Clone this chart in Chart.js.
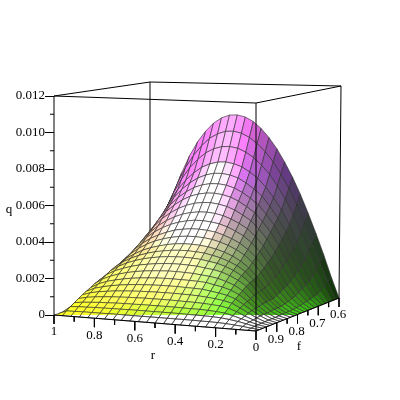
<!DOCTYPE html>
<html>
<head>
<meta charset="utf-8">
<script src="https://cdn.jsdelivr.net/npm/chart.js@4/dist/chart.umd.min.js"></script>
<style>
html, body { margin: 0; padding: 0; background: #fff; }
canvas { display: block; }
</style>
</head>
<body>
<canvas id="surfaceChart" width="400" height="400"></canvas>
<script>
// Grid of the surface
const rValues = [1, 0.958, 0.917, 0.875, 0.833, 0.792, 0.75, 0.708, 0.667, 0.625, 0.583, 0.542, 0.5, 0.458, 0.417, 0.375, 0.333, 0.292, 0.25, 0.208, 0.167, 0.125, 0.083, 0.042, 0];
const fValues = [1, 0.983, 0.967, 0.95, 0.933, 0.917, 0.9, 0.883, 0.867, 0.85, 0.833, 0.817, 0.8, 0.783, 0.767, 0.75, 0.733, 0.717, 0.7, 0.683, 0.667, 0.65, 0.633, 0.617, 0.6];

// q, in units of 1e-5, one row per f value
const qRows = [
  [0,0,0,0,0,0,0,0,0,0,0,0,0,0,0,0,0,0,0,0,0,0,0,0,0],
  [0,19,20,21,21,21,22,22,22,22,22,22,22,22,22,22,22,21,21,20,18,14,10,4,0],
  [0,36,39,40,42,42,43,43,44,44,44,44,44,44,44,43,43,42,41,38,33,26,17,7,0],
  [0,51,57,60,63,64,66,67,67,68,68,68,68,68,67,66,66,64,61,56,46,33,20,8,0],
  [0,67,77,83,87,90,92,94,95,96,96,96,96,95,94,93,91,88,84,75,60,40,23,9,0],
  [0,81,96,105,111,116,119,122,124,125,126,126,126,125,124,122,118,113,106,95,73,49,27,10,0],
  [0,94,114,126,135,142,147,151,153,155,156,156,156,154,153,151,144,137,127,111,84,55,30,11,0],
  [0,107,132,149,160,169,176,181,184,187,188,188,187,186,184,181,171,162,148,127,94,59,31,11,0],
  [0,121,152,172,187,198,207,213,217,220,222,222,220,218,213,208,200,186,169,142,102,62,31,11,0],
  [0,132,170,195,212,226,237,244,250,254,256,256,254,251,244,238,228,211,189,159,113,68,33,12,0],
  [0,141,185,214,236,252,265,274,281,286,288,288,286,282,274,266,252,233,207,171,121,72,36,13,0],
  [0,148,197,231,256,275,290,301,309,315,318,318,315,311,301,290,273,253,223,181,127,75,37,14,0],
  [0,151,207,246,275,298,315,328,338,345,348,348,345,339,329,315,296,271,237,191,132,77,38,14,0],
  [0,158,221,265,299,325,346,361,372,380,384,384,381,374,362,346,325,298,259,209,146,86,44,16,0],
  [0,163,234,284,322,352,375,393,407,415,420,420,416,409,395,377,355,323,281,227,160,97,50,19,0],
  [0,168,246,304,348,383,410,431,446,456,462,462,457,449,434,413,389,353,307,247,176,109,58,22,0],
  [0,174,260,324,373,413,444,468,486,497,503,504,499,489,472,450,423,383,333,267,192,121,66,25,0],
  [0,178,273,345,401,447,482,510,530,544,551,552,546,535,517,491,462,418,364,295,215,139,77,30,0],
  [0,183,287,367,430,481,521,553,576,591,599,600,594,582,561,533,501,453,396,324,240,159,90,36,0],
  [0,187,300,387,457,514,559,594,621,638,647,648,642,628,605,574,539,488,428,353,266,180,104,42,0],
  [0,190,312,408,486,550,601,641,670,690,701,702,695,680,654,621,583,527,463,386,295,204,119,49,0],
  [0,198,330,435,522,592,649,693,727,748,760,762,754,738,711,676,629,570,503,422,328,232,142,62,0],
  [0,206,351,470,569,649,715,766,805,830,844,846,838,817,787,746,696,631,558,472,372,271,169,78,0],
  [0,217,376,508,618,709,782,840,884,912,928,930,920,897,863,817,762,692,614,522,420,312,203,96,0],
  [0,232,406,551,672,773,856,920,968,1000,1018,1020,1009,984,946,894,831,757,672,576,472,359,240,116,0]
];

// Tick labels
const qTicks = [0, 0.002, 0.004, 0.006, 0.008, 0.01, 0.012];
const qTickLabels = ['0', '0.002', '0.004', '0.006', '0.008', '0.010', '0.012'];
const qMinorTicks = [0.001, 0.003, 0.005, 0.007, 0.009, 0.011];
const rTicks = [1, 0.8, 0.6, 0.4, 0.2, 0];
const rTickLabels = ['1', '0.8', '0.6', '0.4', '0.2', '0'];
const rMinorTicks = [0.9, 0.7, 0.5, 0.3, 0.1];
const fTicks = [0.9, 0.8, 0.7, 0.6];
const fTickLabels = ['0.9', '0.8', '0.7', '0.6'];
const fMinorTicks = [0.95, 0.85, 0.75, 0.65];

const QMAX = 0.012;
const FONT = '"Liberation Serif", serif';

// Box corners on the page, viewing frame of the 3D box
const boxBottom = { a: [54, 315], b: [256, 331], c: [339, 298], d: [150, 285] };
const boxTop = { a: [54, 96], b: [256, 103], c: [341, 86], d: [150, 82] };
const qPerPx = QMAX / (315 - 96);

function mix(p, q, s) { return [p[0] + (q[0] - p[0]) * s, p[1] + (q[1] - p[1]) * s]; }

// r, f, q -> x and y of the flat chart (x in page px, y in q units)
function project(r, f, q) {
    const u = 1 - r;
    const t = (1 - f) / 0.4;
    const w = q / QMAX;
    const low = mix(mix(boxBottom.a, boxBottom.b, u), mix(boxBottom.d, boxBottom.c, u), t);
    const high = mix(mix(boxTop.a, boxTop.b, u), mix(boxTop.d, boxTop.c, u), t);
    const p = mix(low, high, w);
    return { x: p[0], y: (315 - p[1]) * qPerPx };
}

function clamp(v) { return Math.max(0, Math.min(1, v)); }

// Colour of one cell: position colour times a simple light
function cellColor(i, j) {
    const qa = qRows[j][i], qb = qRows[j][i + 1], qc = qRows[j + 1][i + 1], qd = qRows[j + 1][i];
    const z = (qa + qb + qc + qd) / 4 * 1e-5 / QMAX;
    const r = (rValues[i] + rValues[i + 1]) / 2;
    const dzdu = ((qb + qc) - (qa + qd)) / 2 * 1e-5 / QMAX * (rValues.length - 1);
    const dzdt = ((qc + qd) - (qa + qb)) / 2 * 1e-5 / QMAX * (fValues.length - 1);
    let nx = -dzdu, ny = -dzdt, nz = 1;
    const len = Math.hypot(nx, ny, nz);
    nx /= len; ny /= len; nz /= len;
    const diff = Math.max(0, -0.42 * nx - 0.5 * ny + 0.76 * nz);
    const spec = Math.pow(Math.max(0, -0.05 * nx - 0.72 * ny + 0.69 * nz), 30) * 0.65;
    const light = 0.22 + 0.95 * diff;
    const cr = clamp(0.3 + 0.7 * r + 0.5 * z) * light + spec;
    const cg = Math.max(0.45, 1 - 0.95 * z) * light + spec;
    const cb = clamp(0.1 + 1.6 * z) * light + spec;
    return 'rgb(' + Math.round(clamp(cr) * 255) + ',' + Math.round(clamp(cg) * 255) + ',' + Math.round(clamp(cb) * 255) + ')';
}

function lineSet(points, width, color) {
    return {
        data: points,
        showLine: true,
        fill: false,
        borderColor: color || '#000',
        borderWidth: width || 1,
        pointRadius: 0,
        tension: 0,
        clip: false
    };
}

function boxLine(p, q) { return lineSet([{ x: p[0], y: (315 - p[1]) * qPerPx }, { x: q[0], y: (315 - q[1]) * qPerPx }]); }

function downTick(r, f, len) {
    const p = project(r, f, 0);
    return lineSet([p, { x: p.x, y: p.y - len * qPerPx }]);
}

// First dataset is painted last, so front parts come first
const datasets = [];

// Front edges of the box sit over the surface
datasets.push(boxLine(boxBottom.a, boxBottom.b));
datasets.push(boxLine(boxBottom.b, boxBottom.c));
datasets.push(boxLine(boxBottom.b, boxTop.b));
datasets.push(boxLine(boxTop.a, boxTop.b));
datasets.push(boxLine(boxTop.b, boxTop.c));

rTicks.forEach(r => datasets.push(downTick(r, 1, 9)));
rMinorTicks.forEach(r => datasets.push(downTick(r, 1, 5)));
fTicks.forEach(f => datasets.push(downTick(0, f, 9)));
fMinorTicks.forEach(f => datasets.push(downTick(0, f, 5)));
qMinorTicks.forEach(q => {
    const p = project(1, 1, q);
    datasets.push(lineSet([p, { x: p.x - 4, y: p.y }]));
});

// Surface cells, nearest corner first
for (let j = 0; j < fValues.length - 1; j++) {
    for (let i = rValues.length - 2; i >= 0; i--) {
        const corners = [[i, j], [i + 1, j], [i + 1, j + 1], [i, j + 1], [i, j]];
        datasets.push({
            data: corners.map(c => project(rValues[c[0]], fValues[c[1]], qRows[c[1]][c[0]] * 1e-5)),
            showLine: true,
            fill: 'shape',
            backgroundColor: cellColor(i, j),
            borderColor: 'rgba(45,45,45,0.62)',
            borderWidth: 1,
            pointRadius: 0,
            tension: 0,
            clip: false
        });
    }
}

// Back edges go behind the surface
datasets.push(boxLine(boxBottom.a, boxTop.a));
datasets.push(boxLine(boxBottom.c, boxTop.c));
datasets.push(boxLine(boxBottom.d, boxTop.d));
datasets.push(boxLine(boxTop.a, boxTop.d));
datasets.push(boxLine(boxTop.c, boxTop.d));

// Labels of the two floor axes and the axis names
const floorLabels = {
    id: 'floorLabels',
    afterDraw(chart) {
        const ctx = chart.ctx;
        const xs = chart.scales.x, ys = chart.scales.y;
        ctx.save();
        ctx.fillStyle = '#000';
        ctx.font = '13px ' + FONT;
        ctx.textAlign = 'center';
        ctx.textBaseline = 'middle';
        rTicks.forEach((r, k) => {
            const p = project(r, 1, 0);
            ctx.fillText(rTickLabels[k], xs.getPixelForValue(p.x), ys.getPixelForValue(p.y) + 17);
        });
        fTicks.forEach((f, k) => {
            const p = project(0, f, 0);
            ctx.fillText(fTickLabels[k], xs.getPixelForValue(p.x) - 1, ys.getPixelForValue(p.y) + 17);
        });
        ctx.fillText('q', 9, 210);
        ctx.fillText('r', 153, 356);
        ctx.fillText('f', 299, 347);
        ctx.restore();
    }
};

new Chart(document.getElementById('surfaceChart'), {
    type: 'scatter',
    data: { datasets: datasets },
    plugins: [floorLabels],
    options: {
        responsive: false,
        animation: false,
        events: [],
        layout: { padding: { left: 0, right: 59, top: 96, bottom: 85 } },
        plugins: { legend: { display: false }, tooltip: { enabled: false } },
        scales: {
            x: { type: 'linear', min: 54, max: 341, display: false },
            y: {
                type: 'linear',
                min: 0,
                max: QMAX,
                afterFit(scale) { scale.width = 54; },
                afterBuildTicks(scale) { scale.ticks = qTicks.map(v => ({ value: v })); },
                border: { display: false },
                grid: { drawOnChartArea: false, drawTicks: true, tickLength: 9, color: '#000' },
                ticks: {
                    color: '#000',
                    padding: 0,
                    font: { family: FONT, size: 13 },
                    callback: v => qTickLabels[qTicks.indexOf(v)]
                }
            }
        }
    }
});
</script>
</body>
</html>
